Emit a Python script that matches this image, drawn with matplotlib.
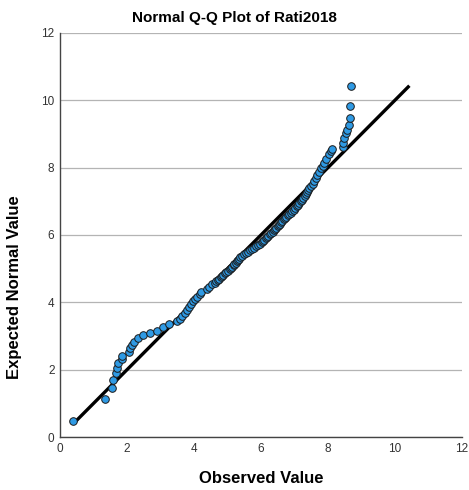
import matplotlib
matplotlib.use("Agg")
import matplotlib.pyplot as plt

plt.rcParams['font.family'] = ['Liberation Sans', 'DejaVu Sans']

observed = [0.40, 1.34, 1.56, 1.59, 1.68, 1.70, 1.72, 1.84, 1.86, 2.06, 2.10, 2.14,
            2.21, 2.34, 2.49, 2.69, 2.89, 3.07, 3.26, 3.48, 3.58, 3.65, 3.74, 3.80,
            3.86, 3.90, 3.96, 4.02, 4.08, 4.18, 4.22, 4.38, 4.45,
            4.55, 4.62, 4.66, 4.72, 4.75, 4.80, 4.84, 4.88, 4.93, 4.96, 5.02, 5.06,
            5.10, 5.14, 5.18, 5.20, 5.24, 5.27, 5.30, 5.33, 5.37, 5.42, 5.48, 5.55,
            5.60, 5.66, 5.72, 5.80, 5.86, 5.92, 5.98, 6.02, 6.06, 6.10, 6.14, 6.18,
            6.22, 6.26, 6.30, 6.35, 6.38, 6.42, 6.46, 6.50, 6.54, 6.56, 6.60, 6.64,
            6.68, 6.72, 6.76, 6.80, 6.85, 6.90, 6.94, 6.98, 7.02, 7.06, 7.10, 7.14,
            7.18, 7.22, 7.26, 7.30, 7.33, 7.37, 7.40, 7.44, 7.48, 7.54, 7.58, 7.64,
            7.67, 7.72, 7.78, 7.84, 7.88, 7.95, 8.04, 8.10, 8.13, 8.44, 8.46, 8.49,
            8.54, 8.58, 8.62, 8.65, 8.66, 8.69]
expected = [0.48, 1.12, 1.45, 1.69, 1.89, 2.04, 2.19, 2.31, 2.42, 2.53, 2.63, 2.74,
            2.83, 2.93, 3.03, 3.10, 3.16, 3.26, 3.36, 3.45, 3.52, 3.59, 3.68, 3.77,
            3.86, 3.94, 4.03, 4.10, 4.17, 4.25, 4.32, 4.40, 4.46,
            4.53, 4.58, 4.62, 4.66, 4.70, 4.74, 4.78, 4.82, 4.86, 4.90, 4.94, 4.98,
            5.02, 5.06, 5.10, 5.14, 5.18, 5.22, 5.26, 5.30, 5.34, 5.38, 5.42, 5.46,
            5.50, 5.54, 5.58, 5.62, 5.66, 5.70, 5.74, 5.78, 5.82, 5.86, 5.90, 5.94,
            5.98, 6.02, 6.06, 6.10, 6.14, 6.18, 6.22, 6.26, 6.30, 6.34, 6.38, 6.42,
            6.46, 6.50, 6.54, 6.58, 6.62, 6.66, 6.70, 6.75, 6.80, 6.85, 6.90, 6.95,
            7.00, 7.05, 7.10, 7.16, 7.22, 7.28, 7.34, 7.40, 7.46, 7.52, 7.60, 7.68,
            7.78, 7.88, 7.98, 8.06, 8.15, 8.25, 8.40, 8.50, 8.55, 8.62, 8.74, 8.87,
            9.02, 9.12, 9.27, 9.47, 9.82, 10.43]

# reference line (y = x) end points
ref_line = [0.42, 10.43]
ticks = [0, 2, 4, 6, 8, 10, 12]

fig = plt.figure(figsize=(4.69, 4.90), dpi=100)
ax = fig.add_axes([0.128, 0.108, 0.857, 0.825])

ax.plot(ref_line, ref_line, color='black', lw=2.4, zorder=2, solid_capstyle='butt')
ax.scatter(observed, expected, s=30, color='#2f9ae4', edgecolor='#1a1a1a',
           linewidth=0.7, zorder=3)

ax.set_xlim(0, 12)
ax.set_ylim(0, 12)
ax.set_xticks(ticks)
ax.set_yticks(ticks)
ax.yaxis.grid(True, color='#b4b4b4', lw=0.9)
ax.set_axisbelow(True)
ax.tick_params(length=0, labelsize=8.5, colors='#333333', pad=4)
for s in ['top', 'right']:
    ax.spines[s].set_visible(False)
for s in ['left', 'bottom']:
    ax.spines[s].set_color('#444444')
    ax.spines[s].set_linewidth(1)

fig.text(0.5, 0.963, 'Normal Q-Q Plot of Rati2018', fontsize=11, fontweight='bold',
         ha='center', va='center')
ax.set_xlabel('Observed Value', fontsize=12, fontweight='bold', labelpad=12)
ax.set_ylabel('Expected Normal Value', fontsize=12, fontweight='bold', labelpad=10)
ax.yaxis.set_label_coords(-0.095, 0.37)

fig.savefig('out.png', dpi=100)
